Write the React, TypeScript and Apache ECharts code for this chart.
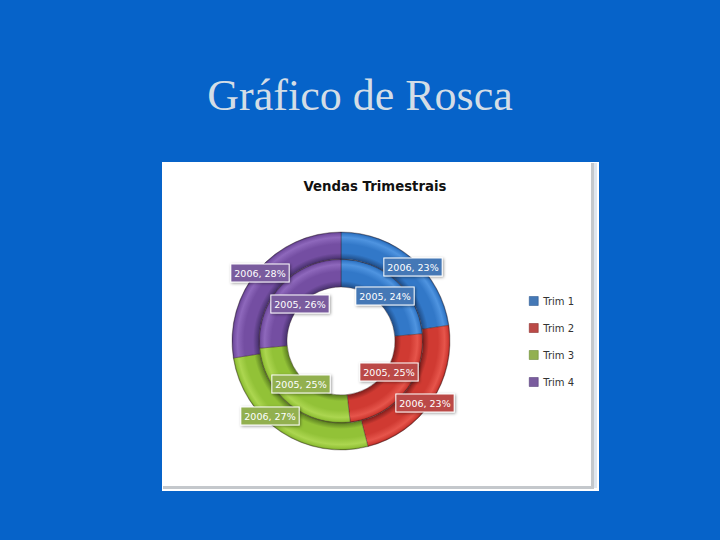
import React, { useEffect, useRef } from "react";
import * as echarts from "echarts";

const slideTitle = "Gráfico de Rosca";
const chartTitle = "Vendas Trimestrais";
const categories = ["Trim 1", "Trim 2", "Trim 3", "Trim 4"];
const values2005 = [23.6, 24.6, 25.4, 26.4];
const values2006 = [22.8, 23.4, 26.6, 27.6];

const baseColors = ["#3278c8", "#d03a32", "#92c237", "#744ea2"];
const lightColors = ["#4f94e0", "#e6554b", "#acd650", "#8e68bc"];
const darkColors = ["#1f4c86", "#7e1e1c", "#5a7d20", "#46306c"];
const boxColors = ["#4478b6", "#bb4a47", "#92b050", "#7a5c9e"];

const CX = 341;
const CY = 341;
const R_OUT = 109;

const labelCenters2005 = [[385, 296], [389, 372], [301, 384], [300, 304]];
const labelCenters2006 = [[413, 267], [425, 403], [270, 416], [260, 273]];

function ringFill(i: number, ri: number, ro: number) {
  const f = (r: number) => r / R_OUT;
  const w = ro - ri;
  return new echarts.graphic.RadialGradient(
    CX,
    CY,
    R_OUT,
    [
      { offset: 0, color: darkColors[i] },
      { offset: f(ri), color: darkColors[i] },
      { offset: f(ri + w * 0.22), color: baseColors[i] },
      { offset: f(ri + w * 0.55), color: baseColors[i] },
      { offset: f(ri + w * 0.8), color: lightColors[i] },
      { offset: f(ri + w * 0.94), color: baseColors[i] },
      { offset: f(ro), color: darkColors[i] },
      { offset: 1, color: darkColors[i] },
    ],
    true
  );
}

function ring(
  name: string,
  values: number[],
  ri: number,
  ro: number,
  centers: number[][]
) {
  return {
    type: "pie",
    name,
    center: [CX, CY],
    radius: [ri, ro],
    startAngle: 90,
    clockwise: true,
    silent: true,
    avoidLabelOverlap: false,
    z: 3,
    data: categories.map((c, i) => ({
      name: c,
      value: values[i],
      itemStyle: {
        color: ringFill(i, ri, ro),
        borderColor: "rgba(50,30,30,0.6)",
        borderWidth: 0.6,
      },
      label: { backgroundColor: boxColors[i] },
    })),
    label: {
      show: true,
      position: "inside",
      formatter: (p: any) => `${p.seriesName}, ${Math.round(p.value)}%`,
      color: "#ffffff",
      fontFamily: "DejaVu Sans",
      fontSize: 9.5,
      lineHeight: 15,
      align: "center",
      verticalAlign: "middle",
      padding: [1, 3],
      borderColor: "#ffffff",
      borderWidth: 1,
      shadowColor: "rgba(0,0,0,0.4)",
      shadowBlur: 3,
      shadowOffsetX: 1,
      shadowOffsetY: 1,
    },
    labelLine: { show: false },
    labelLayout: (p: any) => ({
      x: centers[p.dataIndex][0],
      y: centers[p.dataIndex][1],
      align: "center",
      verticalAlign: "middle",
    }),
  };
}

export default function App() {
  const ref = useRef<HTMLDivElement>(null);
  useEffect(() => {
    const chart = echarts.init(ref.current!, null, { renderer: "svg" });
    chart.setOption({
      animation: false,
      backgroundColor: "#0663c9",
      title: [
        {
          text: slideTitle,
          left: 355,
          top: 68,
          textAlign: "center",
          textStyle: {
            color: "#d3dde6",
            fontFamily: "Liberation Serif",
            fontSize: 44,
            fontWeight: "normal",
          },
        },
        {
          text: chartTitle,
          left: 370,
          top: 175,
          textAlign: "center",
          textStyle: {
            color: "#111111",
            fontFamily: "DejaVu Sans",
            fontSize: 13.3,
            fontWeight: "bold",
          },
          z: 5,
        },
      ],
      legend: {
        orient: "vertical",
        left: 524,
        top: 290,
        itemWidth: 9,
        itemHeight: 9,
        itemGap: 15,
        icon: "rect",
        textStyle: {
          color: "#333333",
          fontFamily: "DejaVu Sans",
          fontSize: 10,
          lineHeight: 12,
        },
        data: categories.map((c, i) => ({
          name: c,
          itemStyle: { color: boxColors[i], borderColor: darkColors[i], borderWidth: 0.5 },
        })),
      },
      graphic: [
        { type: "rect", z: 0, shape: { x: 162, y: 162, width: 437, height: 329 }, style: { fill: "#ffffff" } },
        { type: "rect", z: 0, shape: { x: 591, y: 163, width: 3, height: 325 }, style: { fill: "#c4c8cc" } },
        { type: "rect", z: 0, shape: { x: 594, y: 163, width: 3, height: 325 }, style: { fill: "#dfe6ee" } },
        { type: "rect", z: 0, shape: { x: 163, y: 486, width: 431, height: 3 }, style: { fill: "#c4c8cc" } },
      ],
      series: [
        ring("2005", values2005, 54, 82, labelCenters2005),
        ring("2006", values2006, 82, 109, labelCenters2006),
      ],
    });
    return () => chart.dispose();
  }, []);
  return (
    <div
      ref={ref}
      style={{ position: "fixed", left: 0, top: 0, width: 720, height: 540 }}
    />
  );
}
